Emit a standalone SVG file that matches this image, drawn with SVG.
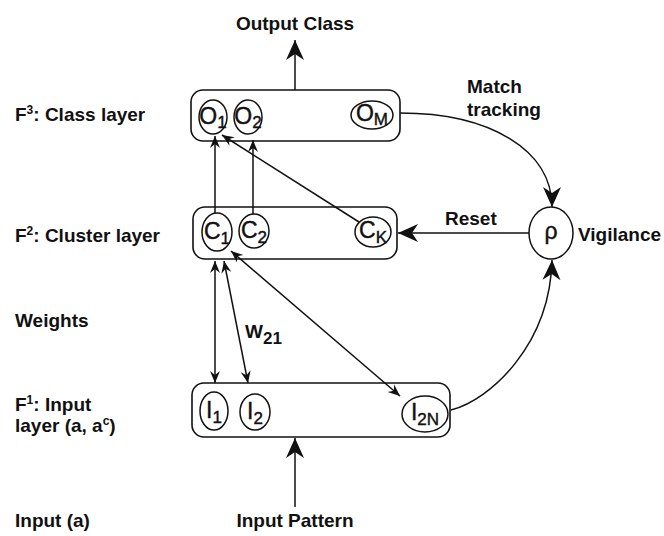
<svg xmlns="http://www.w3.org/2000/svg" width="664" height="536" viewBox="0 0 664 536">
  <style>
    .box { fill: none; stroke: #111; stroke-width: 1.6; }
    .unit { fill: #fff; stroke: #111; stroke-width: 1.5; }
    .wire { fill: none; stroke: #111; stroke-width: 1.5; }
    .lbl { font-family: "Liberation Sans", Arial, sans-serif; font-weight: bold; font-size: 19px; fill: #111; }
    .sym { font-family: "Liberation Sans", Arial, sans-serif; font-size: 23px; fill: #111; stroke: #111; stroke-width: 0.4; text-anchor: middle; }
    .sub { font-size: 17px; }
    .sup { font-size: 12px; }
  </style>
  <defs>
    <marker id="big" markerUnits="userSpaceOnUse" markerWidth="24" markerHeight="24" viewBox="-22 -11 24 22" refX="0" refY="0" orient="auto-start-reverse">
      <path d="M0,0 L-20,-9 L-14,0 L-20,9 Z" fill="#111"/>
    </marker>
    <marker id="small" markerUnits="userSpaceOnUse" markerWidth="16" markerHeight="16" viewBox="-14 -7 16 14" refX="0" refY="0" orient="auto-start-reverse">
      <path d="M0,0 L-12,-5 L-8,0 L-12,5 Z" fill="#111"/>
    </marker>
  </defs>

  <!-- side captions -->
  <g id="captions">
    <text class="lbl" x="15" y="121">F<tspan class="sup" dy="-7">3</tspan><tspan dy="7">: Class layer</tspan></text>
    <text class="lbl" x="15" y="242">F<tspan class="sup" dy="-7">2</tspan><tspan dy="7">: Cluster layer</tspan></text>
    <text class="lbl" x="15" y="327">Weights</text>
    <text class="lbl" x="15" y="411">F<tspan class="sup" dy="-7">1</tspan><tspan dy="7">: Input</tspan></text>
    <text class="lbl" x="15" y="432">layer (a, a<tspan class="sup" dy="-7">c</tspan><tspan dy="7">)</tspan></text>
    <text class="lbl" x="15" y="527">Input (a)</text>
  </g>

  <!-- connectors -->
  <g id="connectors">
    <line class="wire" x1="295" y1="90" x2="295" y2="40" marker-end="url(#big)"/>
    <line class="wire" x1="295" y1="507" x2="295" y2="438" marker-end="url(#big)"/>
    <line class="wire" x1="215" y1="213" x2="215" y2="136" marker-end="url(#small)"/>
    <line class="wire" x1="253" y1="214" x2="253" y2="140" marker-end="url(#small)"/>
    <line class="wire" x1="359" y1="222" x2="222" y2="135" marker-end="url(#small)"/>
    <line class="wire" x1="215" y1="261" x2="215" y2="383" marker-start="url(#small)" marker-end="url(#small)"/>
    <line class="wire" x1="224" y1="261" x2="248" y2="383" marker-start="url(#small)" marker-end="url(#small)"/>
    <line class="wire" x1="231" y1="251" x2="400" y2="396" marker-start="url(#small)" marker-end="url(#small)"/>
    <line class="wire" x1="529" y1="233" x2="398" y2="233" marker-end="url(#big)"/>
    <path class="wire" d="M400,113 C490,113 552,150 552,207" marker-end="url(#big)"/>
    <path class="wire" d="M451,410 C490,400 550,345 552,260" marker-end="url(#big)"/>
  </g>

  <!-- F3 class layer -->
  <g id="class-layer">
    <rect class="box" x="191" y="90" width="209" height="51" rx="12"/>
  </g>
  <g id="o1"><ellipse class="unit" cx="213" cy="117" rx="14" ry="17"/><text class="sym" x="213" y="124">O<tspan class="sub" dy="4">1</tspan></text></g>
  <g id="o2"><ellipse class="unit" cx="248" cy="117" rx="14" ry="17"/><text class="sym" x="248" y="124">O<tspan class="sub" dy="4">2</tspan></text></g>
  <g id="om"><ellipse class="unit" cx="372" cy="115" rx="21" ry="14"/><text class="sym" x="372" y="121">O<tspan class="sub" dy="4">M</tspan></text></g>

  <!-- F2 cluster layer -->
  <g id="cluster-layer">
    <rect class="box" x="193" y="207" width="204" height="52" rx="12"/>
  </g>
  <g id="c1"><ellipse class="unit" cx="217" cy="232" rx="15" ry="19"/><text class="sym" x="217" y="239">C<tspan class="sub" dy="5">1</tspan></text></g>
  <g id="c2"><ellipse class="unit" cx="254" cy="231" rx="15" ry="17"/><text class="sym" x="254" y="238">C<tspan class="sub" dy="5">2</tspan></text></g>
  <g id="ck"><ellipse class="unit" cx="373" cy="232" rx="18" ry="15"/><text class="sym" x="373" y="238">C<tspan class="sub" dy="5">K</tspan></text></g>

  <!-- F1 input layer -->
  <g id="input-layer">
    <rect class="box" x="192" y="383" width="258" height="54" rx="12"/>
  </g>
  <g id="i1"><ellipse class="unit" cx="214" cy="411" rx="14" ry="19"/><text class="sym" x="214" y="418">I<tspan class="sub" dy="5">1</tspan></text></g>
  <g id="i2"><ellipse class="unit" cx="255" cy="412" rx="15" ry="18"/><text class="sym" x="255" y="419">I<tspan class="sub" dy="5">2</tspan></text></g>
  <g id="i2n"><ellipse class="unit" cx="425" cy="414" rx="23" ry="18"/><text class="sym" x="425" y="420">I<tspan class="sub" dy="5">2N</tspan></text></g>

  <!-- vigilance unit -->
  <g id="vigilance"><ellipse class="unit" cx="551" cy="233" rx="22" ry="26"/><text class="sym" x="551" y="239">ρ</text></g>

  <!-- connector labels -->
  <g id="labels">
    <text class="lbl" x="295" y="30" text-anchor="middle">Output Class</text>
    <text class="lbl" x="295" y="527" text-anchor="middle">Input Pattern</text>
    <text class="lbl" x="467" y="93">Match</text>
    <text class="lbl" x="467" y="116">tracking</text>
    <text class="lbl" x="445" y="225">Reset</text>
    <text class="lbl" x="578" y="241">Vigilance</text>
    <text class="lbl" x="245" y="338" font-size="20">W<tspan class="sub" dy="6">21</tspan></text>
  </g>
</svg>
